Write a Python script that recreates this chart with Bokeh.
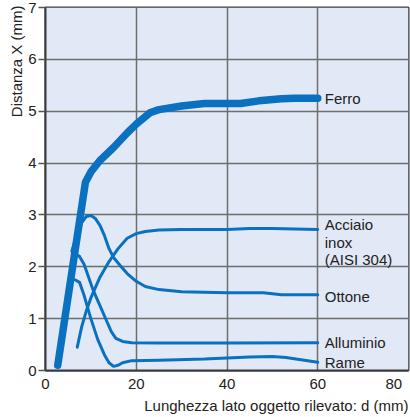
from bokeh.plotting import figure
from bokeh.models import Range1d, FixedTicker, Title, ColumnDataSource
from bokeh.core.properties import value
from bokeh.embed import file_html
from bokeh.resources import INLINE

# --- data ---
ferro_d = [2.7, 8.8, 10, 12, 15, 18, 20, 23, 25, 30, 35, 40, 43, 47, 52, 55, 60]
ferro_x = [0.1, 3.63, 3.83, 4.05, 4.3, 4.58, 4.75, 4.97, 5.03, 5.1, 5.15, 5.15, 5.15, 5.2, 5.24, 5.25, 5.25]

inox_d = [7, 8, 9, 10, 12, 14, 16, 18, 20, 22, 25, 30, 40, 45, 50, 60]
inox_x = [0.45, 0.85, 1.15, 1.4, 1.8, 2.1, 2.35, 2.55, 2.64, 2.68, 2.71, 2.72, 2.72, 2.74, 2.74, 2.72]

ottone_d = [5.8, 7, 8, 9, 10, 11, 12, 13, 14, 15, 16.5, 18, 20, 22, 25, 30, 40, 48, 52, 60]
ottone_x = [2.3, 2.65, 2.85, 2.97, 2.99, 2.93, 2.8, 2.6, 2.35, 2.18, 2.02, 1.87, 1.72, 1.62, 1.56, 1.52, 1.5, 1.5, 1.46, 1.46]

allum_d = [6.5, 7.5, 8.5, 9.5, 10.5, 12, 13.5, 14.5, 15.5, 17, 19, 25, 40, 60]
allum_x = [2.25, 2.2, 2.05, 1.8, 1.55, 1.25, 0.95, 0.75, 0.62, 0.56, 0.535, 0.53, 0.53, 0.535]

rame_d = [6.5, 7.5, 8.5, 10, 11.5, 13, 14, 15, 16, 17, 19, 25, 35, 45, 50, 53, 60]
rame_x = [1.75, 1.7, 1.45, 1.0, 0.6, 0.3, 0.15, 0.08, 0.1, 0.15, 0.19, 0.2, 0.22, 0.26, 0.27, 0.25, 0.16]

x_ticks = [0, 20, 40, 60, 80]
y_ticks = [0, 1, 2, 3, 4, 5, 6, 7]
series_labels = ["Ferro", "Acciaio", "inox", "(AISI 304)", "Ottone", "Alluminio", "Rame"]
x_title = "Lunghezza lato oggetto rilevato: d (mm)"
y_title = "Distanza X (mm)"

FONT = "Liberation Sans"
FS = "15px"
BLUE = "#0a70c0"
TXT = "#222222"

p = figure(width=410, height=417, output_backend="svg", toolbar_location=None,
           x_range=Range1d(0, 80), y_range=Range1d(0, 7),
           min_border_left=45, min_border_right=2, min_border_top=7, min_border_bottom=47)

p.background_fill_color = "#ffffff"
p.border_fill_color = "#ffffff"
p.outline_line_color = "#3a3a3a"
p.outline_line_width = 2

# frame background
p.quad(left=[0], right=[80], bottom=[0], top=[7], fill_color="#e1e9f6", line_color=None, level="underlay")

for ax in (p.xaxis, p.yaxis):
    ax.axis_line_color = "#3a3a3a"
    ax.axis_line_width = 2
    ax.minor_tick_line_color = None
    ax.major_label_text_font = FONT
    ax.major_label_text_font_size = FS
    ax.major_label_text_color = TXT

p.xaxis.ticker = FixedTicker(ticks=x_ticks)
p.yaxis.ticker = FixedTicker(ticks=y_ticks)
p.xaxis.major_tick_out = 0
p.xaxis.major_tick_in = 0
p.xaxis.major_label_standoff = 4
p.xaxis.major_label_overrides = {80: "80\u00a0\u00a0"}
p.yaxis.major_tick_out = 7
p.yaxis.major_tick_in = 0
p.yaxis.major_tick_line_color = "#555555"
p.yaxis.major_tick_line_width = 1.5
p.yaxis.major_label_standoff = 2

p.xgrid.ticker = FixedTicker(ticks=[20, 40, 60])
p.ygrid.ticker = FixedTicker(ticks=[1, 2, 3, 4, 5, 6])
for g in (p.xgrid, p.ygrid):
    g.grid_line_color = "#6e6e6e"
    g.grid_line_width = 1.5

# curves
p.line(ferro_d, ferro_x, line_color=BLUE, line_width=7.5, line_join="round", line_cap="round")
for d, x in ((inox_d, inox_x), (ottone_d, ottone_x), (allum_d, allum_x), (rame_d, rame_x)):
    p.line(d, x, line_color=BLUE, line_width=3, line_join="round", line_cap="round")

# labels at curve ends
ends_y = [ferro_x[-1], inox_x[-1], inox_x[-1], inox_x[-1], ottone_x[-1], allum_x[-1], rame_x[-1]]
ends_x = [ferro_d[-1], inox_d[-1], inox_d[-1], inox_d[-1], ottone_d[-1], allum_d[-1], rame_d[-1]]
yoff = [0, -5, 12.6, 30.2, 2, 0, 0]
src = ColumnDataSource(dict(x=ends_x, y=ends_y, t=series_labels, yo=yoff))
p.text(x="x", y="y", text="t", source=src, x_offset=7, y_offset="yo",
       text_font=value(FONT), text_font_size=FS, text_color=TXT,
       text_align="left", text_baseline="middle")

p.add_layout(Title(text=y_title, align="right", text_font=FONT,
                   text_font_size=FS, text_font_style="normal", text_color=TXT,
                   standoff=2, offset=-2), "left")
p.add_layout(Title(text=x_title, align="right", text_font=FONT,
                   text_font_size=FS, text_font_style="normal", text_color=TXT,
                   standoff=0, offset=0), "below")

open("out.html", "w").write(file_html(p, INLINE))
